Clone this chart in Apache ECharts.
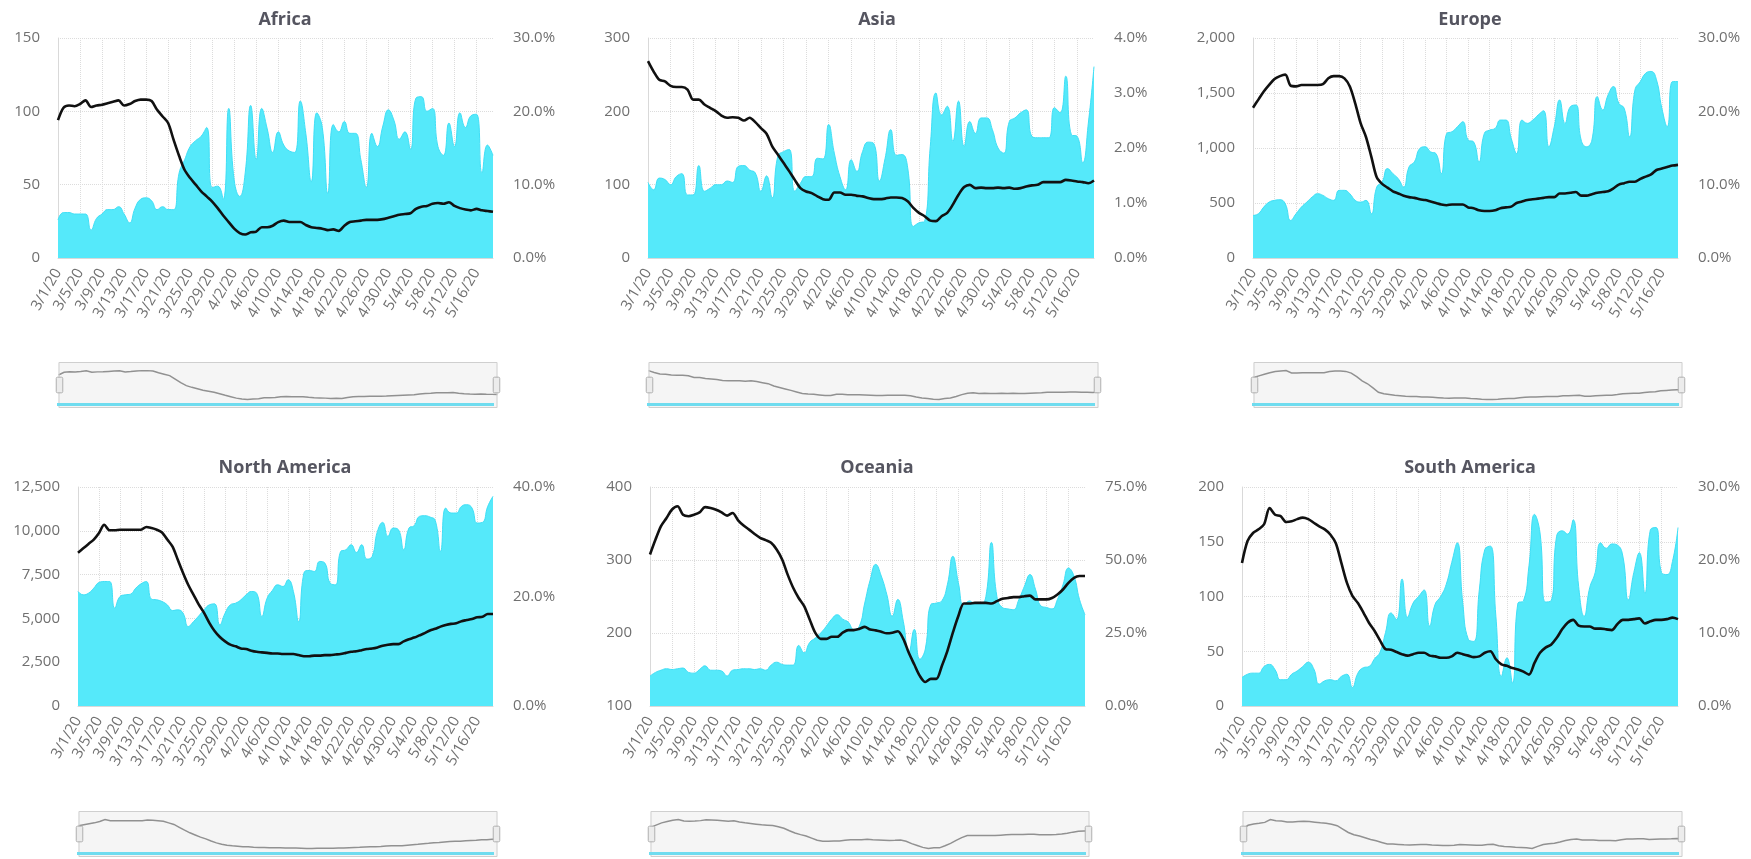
<!DOCTYPE html>
<html>
<head>
<meta charset="utf-8">
<script src="https://cdn.jsdelivr.net/npm/echarts@6/dist/echarts.min.js"></script>
<style>
html,body{margin:0;padding:0;background:#ffffff;}
#chart{width:1751px;height:859px;}
</style>
</head>
<body>
<div id="chart"></div>
<script>
const dates = [
 '3/1/20','3/2/20','3/3/20','3/4/20','3/5/20','3/6/20','3/7/20','3/8/20','3/9/20','3/10/20',
 '3/11/20','3/12/20','3/13/20','3/14/20','3/15/20','3/16/20','3/17/20','3/18/20','3/19/20','3/20/20',
 '3/21/20','3/22/20','3/23/20','3/24/20','3/25/20','3/26/20','3/27/20','3/28/20','3/29/20','3/30/20',
 '3/31/20','4/1/20','4/2/20','4/3/20','4/4/20','4/5/20','4/6/20','4/7/20','4/8/20','4/9/20',
 '4/10/20','4/11/20','4/12/20','4/13/20','4/14/20','4/15/20','4/16/20','4/17/20','4/18/20','4/19/20',
 '4/20/20','4/21/20','4/22/20','4/23/20','4/24/20','4/25/20','4/26/20','4/27/20','4/28/20','4/29/20',
 '4/30/20','5/1/20','5/2/20','5/3/20','5/4/20','5/5/20','5/6/20','5/7/20','5/8/20','5/9/20',
 '5/10/20','5/11/20','5/12/20','5/13/20','5/14/20','5/15/20','5/16/20','5/17/20','5/18/20','5/19/20'
];

const africaCases = [26,31,31,30,30,30,19,27,30,33, 33,35,30,24,34,40,41,39,33,35, 33,33,58,67,76,80,83,89,48,49, 40,102,53,42,58,104,67,102,88,72, 86,77,73,72,107,85,52,99,89,44, 91,86,93,85,85,67,48,85,76,90, 101,94,81,86,74,109,110,100,102,76, 70,92,76,99,89,97,98,58,77,70];
const africaRate = [18.8,20.5,20.8,20.7,21,21.5,20.6,20.8,20.9,21.1, 21.3,21.5,20.8,21,21.4,21.6,21.6,21.4,20.2,19.3, 18.4,16.1,13.9,12,10.9,10,9.1,8.4,7.7,6.8, 5.8,4.9,4,3.4,3.2,3.5,3.6,4.2,4.2,4.4, 4.9,5.1,4.9,4.9,4.9,4.5,4.2,4.1,4,3.8, 3.9,3.7,4.4,4.9,5,5.1,5.2,5.2,5.2,5.3, 5.5,5.7,5.9,6,6.1,6.7,7,7.1,7.4,7.5, 7.4,7.6,7.1,6.8,6.6,6.5,6.7,6.5,6.4,6.3];

const asiaCases = [103,93,109,107,100,111,115,86,86,126, 91,95,100,100,105,103,125,126,120,116, 91,112,82,139,145,148,91,102,111,111, 136,135,182,143,111,93,134,118,145,158, 156,105,136,175,140,141,123,43,48,50, 152,225,195,207,159,214,152,186,170,191, 191,175,150,143,186,191,198,202,166,164, 164,164,205,198,248,168,166,130,184,261];
const asiaRate = [3.58,3.39,3.24,3.21,3.13,3.11,3.11,3.06,2.88,2.88, 2.79,2.73,2.67,2.59,2.55,2.56,2.55,2.5,2.55,2.47, 2.36,2.26,2.03,1.88,1.73,1.58,1.42,1.27,1.21,1.18, 1.12,1.07,1.06,1.19,1.19,1.15,1.15,1.13,1.12,1.09, 1.07,1.07,1.08,1.1,1.1,1.09,1.03,0.91,0.82,0.76, 0.68,0.67,0.76,0.82,0.97,1.15,1.29,1.33,1.27,1.28, 1.27,1.27,1.28,1.27,1.28,1.26,1.27,1.3,1.32,1.33, 1.38,1.38,1.38,1.38,1.42,1.41,1.39,1.38,1.36,1.41];

const europeCases = [387,402,463,508,524,530,493,341,402,463, 508,554,584,569,539,524,615,615,584,524, 508,524,402,645,691,813,767,721,645,828, 874,995,1011,965,950,767,1132,1148,1193,1239, 1072,1056,874,1132,1163,1178,1254,1254,1087,950, 1254,1224,1254,1300,1339,1011,1193,1437,1224,1376, 1391,1072,1011,1072,1467,1346,1482,1559,1406,1361, 1102,1528,1604,1680,1696,1620,1361,1193,1604,1604];
const europeRate = [20.5,21.6,22.7,23.6,24.4,24.8,25,23.5,23.4,23.6, 23.6,23.6,23.6,23.7,24.5,24.8,24.8,24.5,23.4,21.1, 18.4,16.5,13.8,11,10.1,9.6,9.1,8.8,8.5,8.3, 8.2,8,7.9,7.7,7.5,7.3,7.2,7.3,7.3,7.3, 6.9,6.8,6.5,6.4,6.4,6.5,6.8,6.9,7,7.5, 7.7,7.9,8,8.1,8.2,8.3,8.3,8.8,8.8,8.9, 9,8.5,8.5,8.7,8.9,9,9.1,9.5,10,10.2, 10.4,10.4,10.8,11.1,11.4,12,12.2,12.4,12.6,12.7];

const northAmericaCases = [6536,6345,6440,6726,7050,7107,7107,5583,6250,6345, 6383,6726,6974,7107,6097,6059,5964,5773,5450,5488, 5297,4535,4821,5145,5488,5773,5831,4630,5297,5773, 5869,6059,6345,6536,6440,5107,6155,6593,6917,6822, 7203,6536,4820,7584,7736,7679,8251,8155,7012,6917, 8822,8918,9204,8765,9204,8384,8537,9966,10480,9680, 10156,10061,8918,10156,10290,10823,10861,10785,10595,8822, 11300,11014,11014,11395,11490,11300,10442,10480,11395,11966];
const northAmericaRate = [28,28.8,29.6,30.4,31.6,33.1,32.1,32.1,32.2,32.2, 32.2,32.2,32.2,32.7,32.5,32.2,31.7,30.4,29.1,26.7, 24.3,22.1,20.3,18.5,17,15.2,13.7,12.6,11.8,11.2, 10.9,10.5,10.4,10.1,9.9,9.8,9.7,9.6,9.6,9.5, 9.5,9.5,9.3,9.1,9.1,9.2,9.2,9.3,9.3,9.4, 9.5,9.7,9.9,10,10.2,10.4,10.5,10.7,11,11.2, 11.3,11.3,11.8,12.2,12.5,12.9,13.3,13.8,14.1,14.5, 14.8,15,15.1,15.5,15.7,15.9,16.2,16.3,16.8,16.8];

const oceaniaCases = [141,146,149,151,150,151,152,146,145,150, 155,149,149,148,141,149,150,151,151,150, 151,149,156,160,157,156,156,183,173,187, 193,200,209,219,225,219,215,205,209,241, 273,294,278,253,223,246,216,173,205,164, 178,239,241,244,266,305,269,237,244,240, 240,250,324,250,235,233,232,246,264,280, 260,237,235,233,246,266,289,278,246,225];
const oceaniaRate = [51.9,57,61.6,64.4,67.3,68.4,65.5,65,65.5,66.3, 68.1,67.8,67.2,66.3,65.2,66.1,63.6,61.8,60.4,58.9, 57.6,56.8,55.9,53.6,50.2,45,40.5,37,34.2,29.6, 25.1,23,23,23.7,23.7,25.1,26,26,26.4,27.1, 26.2,25.9,25.4,24.9,25.1,25.6,23,18.2,14.2,10.3, 8.2,9.3,9.3,13.7,18.8,25.1,30.8,35.1,35.1,35.3, 35.3,35.3,35.1,35.9,36.7,37,37.3,37.3,37.6,37.8, 36.5,36.5,36.5,37,38.2,39.9,42.2,43.9,44.5,44.5];

const southAmericaCases = [26,29,30,30,36,38,33,24,24,29, 32,36,40,34,20,23,24,23,27,29, 17,30,35,36,43,49,67,85,79,116, 81,94,100,106,73,93,100,111,131,149, 94,61,59,106,143,146,82,27,44,21, 94,96,128,175,158,95,96,155,160,157, 170,109,82,108,122,149,144,148,147,137, 97,122,140,103,161,163,122,120,132,163];
const southAmericaRate = [19.6,22.6,23.7,24.2,24.9,27.1,26.2,26,25.2,25.3, 25.6,25.8,25.6,25.1,24.6,24.2,23.5,22.3,19.6,16.9, 15.1,14.1,12.8,11.4,10.3,9,7.8,7.7,7.4,7.1, 6.9,7.1,7.3,7.3,6.9,6.8,6.6,6.6,6.8,7.3, 7.1,6.9,6.7,6.8,7.3,7.5,6.4,5.7,5.5,5.2, 5,4.7,4.3,5.9,7.3,8,8.4,9.3,10.5,11.4, 11.8,11,10.9,10.9,10.6,10.6,10.5,10.4,11.2,11.8, 11.8,11.9,12,11.3,11.6,11.8,11.8,11.9,12.1,11.9];

const regionNames = ['Africa','Asia','Europe','North America','Oceania','South America'];
const casesSeries = [africaCases, asiaCases, europeCases, northAmericaCases, oceaniaCases, southAmericaCases];
const rateSeries = [africaRate, asiaRate, europeRate, northAmericaRate, oceaniaRate, southAmericaRate];
const leftAxisRange = [[0,150,50],[0,300,100],[0,2000,500],[0,12500,2500],[100,400,100],[0,200,50]];
const rightAxisRange = [[0,30,10],[0,4,1],[0,30,10],[0,40,20],[0,75,25],[0,30,10]];

// layout (pixels)
const layout = [
  {cx:285,  ty:11,  left:58,   top:38,  width:435, height:220, zt:362},
  {cx:877,  ty:11,  left:648,  top:38,  width:446, height:220, zt:362},
  {cx:1470, ty:11,  left:1253, top:38,  width:425, height:220, zt:362},
  {cx:285,  ty:459, left:78,   top:487, width:415, height:219, zt:811},
  {cx:877,  ty:459, left:650,  top:487, width:435, height:219, zt:811},
  {cx:1470, ty:459, left:1242, top:487, width:436, height:219, zt:811}
];
const SLIDER_H = 46;

const FONT = '"Open Sans", "Noto Sans", sans-serif';
const labelColor = '#707070';
const gridLineColor = '#dcdcdc';

const option = {
  animation: false,
  backgroundColor: '#ffffff',
  title: [], grid: [], xAxis: [], yAxis: [], series: [], dataZoom: [], graphic: []
};

regionNames.forEach((name, i) => {
  const L = layout[i];
  option.title.push({
    text: name, left: L.cx, top: L.ty, textAlign: 'center', padding: 0,
    textStyle: {fontFamily: FONT, fontWeight: 'bold', fontSize: 18, color: '#555560'}
  });
  option.grid.push({left: L.left, top: L.top, width: L.width, height: L.height, containLabel: false, outerBoundsMode: 'none'});
  option.xAxis.push({
    type: 'category', gridIndex: i, data: dates, boundaryGap: false,
    axisLine: {show: true, lineStyle: {color: '#d9d9d9'}},
    axisTick: {show: false},
    axisLabel: {interval: 3, rotate: 60, color: labelColor, fontFamily: FONT, fontSize: 15, margin: 12},
    splitLine: {show: true, interval: 3, lineStyle: {color: gridLineColor, type: 'dotted', width: 1}}
  });
  const la = leftAxisRange[i], ra = rightAxisRange[i];
  option.yAxis.push({
    type: 'value', gridIndex: i, position: 'left', min: la[0], max: la[1], interval: la[2],
    axisLine: {show: true, lineStyle: {color: '#d9d9d9'}},
    axisTick: {show: false},
    axisLabel: {color: labelColor, fontFamily: FONT, fontSize: 15, margin: 18,
      formatter: v => v.toLocaleString('en-US')},
    splitLine: {show: true, lineStyle: {color: gridLineColor, type: 'dotted', width: 1}}
  });
  option.yAxis.push({
    type: 'value', gridIndex: i, position: 'right', min: ra[0], max: ra[1], interval: ra[2],
    axisLine: {show: false}, axisTick: {show: false},
    axisLabel: {color: labelColor, fontFamily: FONT, fontSize: 15, margin: 20,
      formatter: v => v.toFixed(1) + '%'},
    splitLine: {show: false}
  });
  option.series.push({
    name: name + ' rate', type: 'line', xAxisIndex: i, yAxisIndex: 2 * i + 1,
    data: rateSeries[i], smooth: 0.3, showSymbol: false, symbol: 'none',
    lineStyle: {color: '#111111', width: 2.6}, z: 4
  });
  option.series.push({
    name: name + ' cases', type: 'line', xAxisIndex: i, yAxisIndex: 2 * i,
    data: casesSeries[i], smooth: true, showSymbol: false, symbol: 'none',
    lineStyle: {color: '#3fdff6', width: 1},
    areaStyle: {color: '#55e9fa', opacity: 1}, z: 2
  });
  option.dataZoom.push({
    type: 'slider', xAxisIndex: i, start: 0, end: 100,
    left: L.left - 2, width: L.width + 4, top: L.zt, height: SLIDER_H,
    showDetail: false, showDataShadow: true, brushSelect: false,
    moveHandleSize: 0,
    backgroundColor: 'rgba(0,0,0,0)', borderColor: '#cfcfcf', borderRadius: 0,
    fillerColor: 'rgba(236,236,236,0.55)',
    dataBackground: {lineStyle: {color: '#222222', width: 1.5, opacity: 1}, areaStyle: {color: '#ffffff', opacity: 0}},
    selectedDataBackground: {lineStyle: {color: '#222222', width: 1.5, opacity: 1}, areaStyle: {color: '#ffffff', opacity: 0}},
    handleIcon: 'path://M2,0H8Q10,0,10,2V22Q10,24,8,24H2Q0,24,0,22V2Q0,0,2,0Z',
    handleSize: '34%',
    handleStyle: {color: '#ececec', borderColor: '#b0b0b0', borderWidth: 1},
    emphasis: {handleStyle: {color: '#ececec', borderColor: '#b0b0b0'}}
  });
  // decorative cyan strip along the bottom edge of each slider
  option.graphic.push({
    type: 'rect', silent: true, z: 100,
    shape: {x: L.left - 1, y: L.zt + SLIDER_H - 5, width: L.width + 2, height: 3},
    style: {fill: '#6fdcef'}
  });
});

const chart = echarts.init(document.getElementById('chart'), null, {renderer: 'canvas'});
chart.setOption(option);
</script>
</body>
</html>
